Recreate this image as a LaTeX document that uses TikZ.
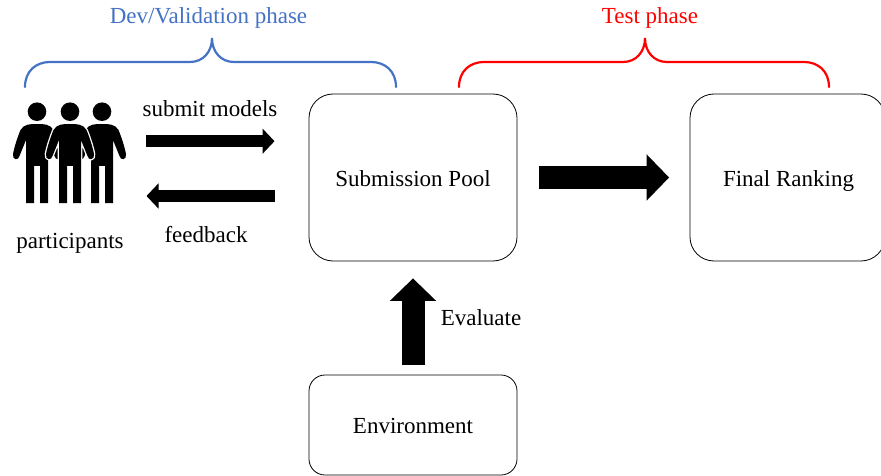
\documentclass[tikz,border=0pt]{standalone}
\usepackage{fontspec}
\setmainfont{Liberation Serif}
\usetikzlibrary{arrows.meta}
\definecolor{devblue}{HTML}{4472C4}
\tikzset{
  x=1pt,y=-1pt,
  box/.style={draw=black,line width=0.8pt,fill=white,rounded corners=#1,inner sep=0pt},
  lbl/.style={inner sep=0pt,anchor=base,font=\fontsize{23}{27}\selectfont,text=black},
  phase/.style={inner sep=0pt,anchor=base,font=\fontsize{23}{27}\selectfont},
  smallarrow/.style={line width=12.6pt,-{Triangle[width=24.6pt,length=12pt,sep=0pt]}},
  bigarrow/.style={line width=23pt,-{Triangle[width=45pt,length=22.5pt,sep=0pt]}},
  brace/.style={line width=2.2pt,line cap=round},
  halo/.style={fill=white,draw=white,line width=2.6pt,line join=round},
}
\newcommand{\personbody}[1]{(#1,124)
    .. controls (#1+7,124) and (#1+13,124) .. (#1+16.5,130)
    .. controls (#1+19,136) and (#1+22.5,146) .. (#1+24,154)
    .. controls (#1+25,160) and (#1+18.5,161) .. (#1+17.5,156)
    -- (#1+11,140) -- (#1+11,203) -- (#1+3,203) -- (#1+3,166) -- (#1-3,166) -- (#1-3,203) -- (#1-11,203) -- (#1-11,140)
    -- (#1-17.5,156)
    .. controls (#1-18.5,161) and (#1-25,160) .. (#1-24,154)
    .. controls (#1-22.5,146) and (#1-19,136) .. (#1-16.5,130)
    .. controls (#1-13,124) and (#1-7,124) .. (#1,124) -- cycle}
\newcommand{\person}[1]{%
  \fill[black] (#1,111.7) circle[radius=9.3];
  \fill[black] \personbody{#1};
}
\begin{document}
\begin{tikzpicture}
\useasboundingbox (0,0) rectangle (881,476);
% boxes
\node[box=24pt,minimum width=208pt,minimum height=167pt] (pool) at (413,177.5) {};
\node[box=24pt,minimum width=195pt,minimum height=167pt] (final) at (787.5,177.5) {};
\node[box=16pt,minimum width=208pt,minimum height=100pt] (env) at (413,425) {};
\node[lbl] (pooltext) at (413,186) {Submission Pool};
\node[lbl] (finaltext) at (788.5,186) {Final Ranking};
\node[lbl] (envtext) at (413,433) {Environment};
% people
\person{37}
\person{102}
\path[halo] \personbody{70};
\person{70}
\node[lbl] (participants) at (70,248) {participants};
\node[lbl] (submit) at (210,117) {submit models};
\node[lbl] (feedback) at (206,242.5) {feedback};
\node[lbl] (evaluate) at (481,325.5) {Evaluate};
% arrows
\coordinate (subA) at (146,141.2);
\coordinate (subB) at (274.5,141.2);
\coordinate (fbA) at (275,196);
\coordinate (fbB) at (146.5,196);
\draw[smallarrow] (subA) -- (subB);
\draw[smallarrow] (fbA) -- (fbB);
\draw[bigarrow] ([xshift=21.5pt]pool.east) -- ([xshift=-20.5pt]final.west);
\draw[bigarrow] ([yshift=10pt]env.north) -- ([yshift=-17pt]pool.south);
% braces
\node[phase,text=devblue] (dev) at (208.5,24) {Dev/Validation phase};
\node[phase,text=red] (test) at (650,24) {Test phase};
\draw[brace,devblue] (25,87) .. controls (25,71) and (36,62) .. (50,62) -- (190,62)
  .. controls (203,62) and (212,52) .. (212,38)
  .. controls (212,52) and (221,62) .. (234,62) -- (371,62)
  .. controls (385,62) and (396,71) .. (396,87);
\draw[brace,red] (459,87) .. controls (459,71) and (470,62) .. (484,62) -- (623,62)
  .. controls (636,62) and (645,52) .. (645,38)
  .. controls (645,52) and (654,62) .. (667,62) -- (804,62)
  .. controls (818,62) and (829,71) .. (829,87);
\end{tikzpicture}
\end{document}
